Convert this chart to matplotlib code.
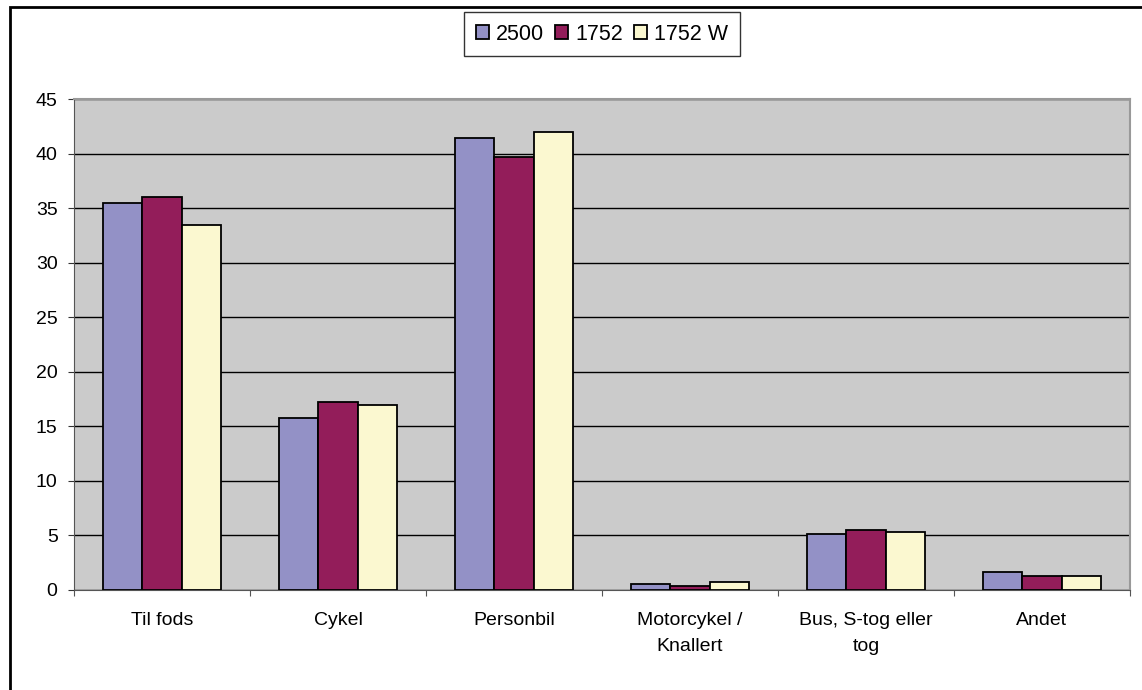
import numpy as np
import matplotlib
matplotlib.use("Agg")
from matplotlib import pyplot as plt
from matplotlib.patches import Rectangle

plt.rcParams["font.family"] = ["Liberation Sans", "DejaVu Sans"]

categories = ["Til fods", "Cykel", "Personbil", "Motorcykel /\nKnallert",
              "Bus, S-tog eller\ntog", "Andet"]
series_names = ["2500", "1752", "1752 W"]
values_2500 = [35.45, 15.75, 41.45, 0.52, 5.15, 1.65]
values_1752 = [36.0, 17.2, 39.65, 0.35, 5.5, 1.25]
values_1752w = [33.45, 17.0, 42.0, 0.72, 5.3, 1.25]
colors = ["#9391C6", "#931D5A", "#FBF8D0"]

W, H = 1142, 690
FS = 14

fig = plt.figure(figsize=(W / 100, H / 100), dpi=100)
ax = fig.add_axes([74 / W, 1 - 590 / H, (1130 - 74) / W, (590 - 99) / H])
ax.set_facecolor("#CBCBCB")

x = np.arange(len(categories))
bw = 0.222
for i, (vals, name) in enumerate(zip([values_2500, values_1752, values_1752w], series_names)):
    ax.bar(x + (i - 1) * bw, vals, width=bw, color=colors[i],
           edgecolor="black", linewidth=1.3, label=name, zorder=3)

ax.set_xlim(-0.5, len(categories) - 0.5)
ax.set_ylim(0, 45)
ax.set_yticks(np.arange(0, 46, 5))
ax.yaxis.grid(True, color="black", linewidth=1.0, zorder=1)
ax.set_axisbelow(True)

# category boundaries as x ticks, labels in between
ax.set_xticks(np.arange(-0.5, len(categories)), minor=False)
ax.set_xticklabels([])
ax.set_xticks(x, minor=True)
ax.set_xticklabels(categories, minor=True, fontsize=FS, linespacing=1.7)
ax.tick_params(axis="x", which="minor", length=0, pad=16)
ax.tick_params(axis="x", which="major", length=4.3, color="#555555", direction="out")
ax.tick_params(axis="y", length=4.3, color="#333333", labelsize=FS, pad=7.5)

for side in ["top", "right"]:
    ax.spines[side].set_color("#999999")
    ax.spines[side].set_linewidth(1.5)
ax.spines["left"].set_color("#555555")
ax.spines["bottom"].set_color("#555555")

leg = ax.legend(loc="center", bbox_to_anchor=(0.5, 1 + 65 / 491), ncol=3,
                fontsize=15.5, frameon=True, fancybox=False, edgecolor="black",
                handlelength=0.6, handleheight=0.6, handletextpad=0.35,
                columnspacing=0.5, borderpad=0.55, borderaxespad=0)
leg.get_frame().set_linewidth(1.0)

# outer chart border (only top and left visible)
fig.add_artist(Rectangle((10 / W, -0.1), 1.2, (1 - 7 / H) + 0.1,
                         transform=fig.transFigure, fill=False,
                         edgecolor="black", linewidth=2))

fig.savefig("out.png", dpi=100, facecolor="white")
